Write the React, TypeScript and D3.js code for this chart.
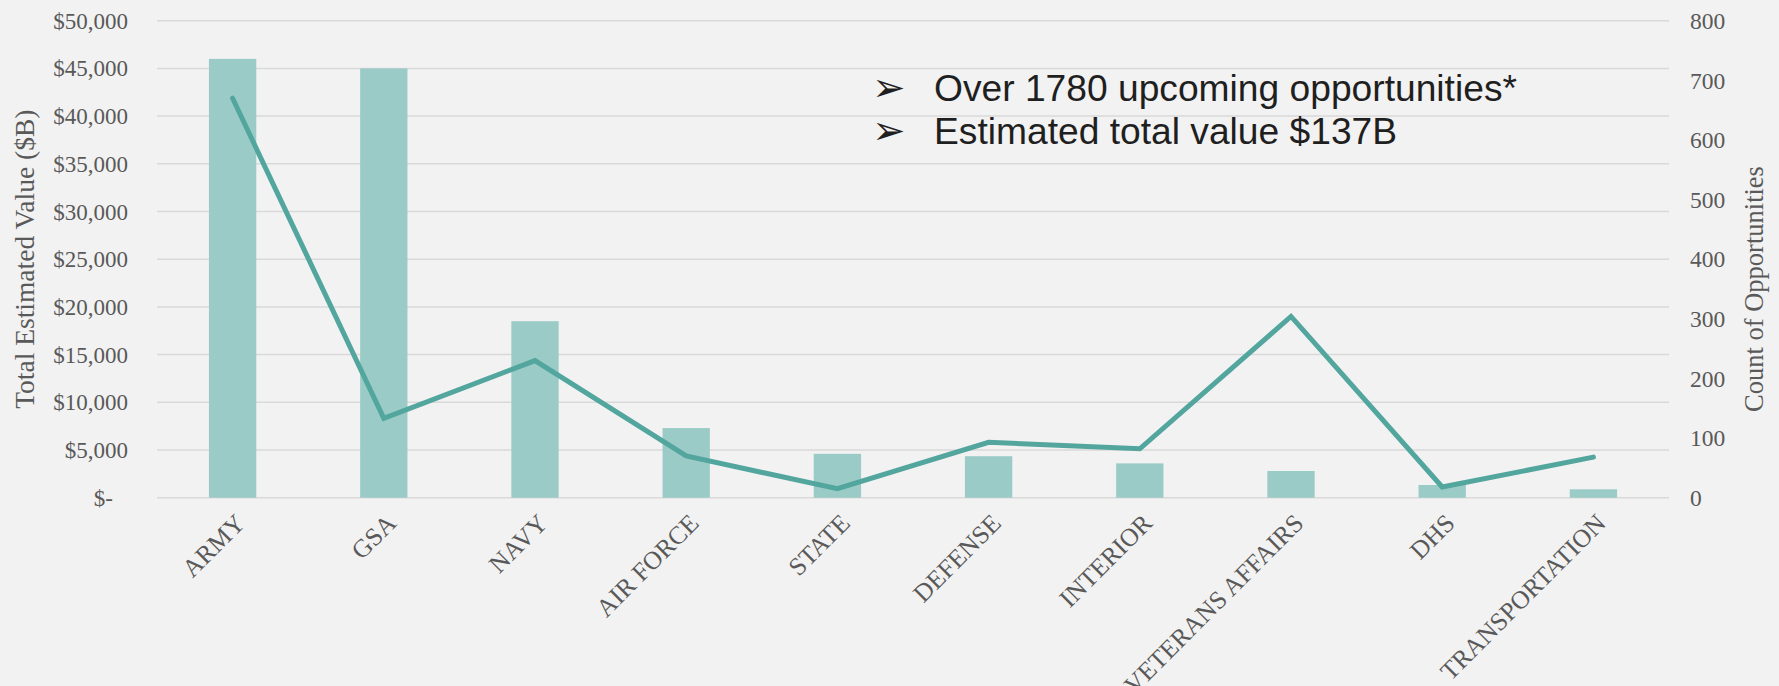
import React from "react";
import * as d3 from "d3";

const categories = ["ARMY", "GSA", "NAVY", "AIR FORCE", "STATE", "DEFENSE", "INTERIOR", "VETERANS AFFAIRS", "DHS", "TRANSPORTATION"];
const totalValues = [46000, 45000, 18500, 7300, 4600, 4350, 3600, 2800, 1330, 880];
const opportunityCounts = [670, 133, 230, 70, 15, 93, 82, 304, 18, 68];
const valueTicks = [0, 5000, 10000, 15000, 20000, 25000, 30000, 35000, 40000, 45000, 50000];
const countTicks = [0, 100, 200, 300, 400, 500, 600, 700, 800];
const notes = ["Over 1780 upcoming opportunities*", "Estimated total value $137B"];

const W = 1779;
const H = 686;
const left = 157;
const right = 1669;
const top = 20.7;
const bottom = 497.7;

const serif = "'Liberation Serif', 'Times New Roman', serif";
const grey = "#595959";

export default function App() {
  const x = d3.scaleBand<string>().domain(categories).range([left, right]).padding(0);
  const yL = d3.scaleLinear().domain([0, 50000]).range([bottom, top]);
  const yR = d3.scaleLinear().domain([0, 800]).range([bottom, top]);
  const barW = x.bandwidth() * 0.313;
  const fmt = d3.format(",");
  const cx = (c: string) => (x(c) as number) + x.bandwidth() / 2;

  const line = d3
    .line<number>()
    .x((_, i) => cx(categories[i]))
    .y((d) => yR(d));

  return (
    <svg
      width={W}
      height={H}
      style={{ position: "absolute", left: 0, top: 0, background: "#F2F2F2" }}
    >
      <rect x={0} y={0} width={W} height={H} fill="#F2F2F2" />
      {valueTicks.map((t) => (
        <line key={"g" + t} x1={left} x2={right} y1={yL(t)} y2={yL(t)} stroke="#D9D9D9" strokeWidth={1.5} />
      ))}
      {valueTicks.map((t) => (
        <text
          key={"l" + t}
          x={t === 0 ? 113 : 128}
          y={yL(t)}
          dy="0.35em"
          textAnchor="end"
          fontFamily={serif}
          fontSize={23}
          fill={grey}
        >
          {t === 0 ? "$-" : "$" + fmt(t)}
        </text>
      ))}
      {countTicks.map((t) => (
        <text
          key={"r" + t}
          x={1690}
          y={yR(t)}
          dy="0.35em"
          textAnchor="start"
          fontFamily={serif}
          fontSize={23.5}
          fill={grey}
        >
          {t}
        </text>
      ))}
      <text
        transform={`translate(34,${(top + bottom) / 2}) rotate(-90)`}
        textAnchor="middle"
        fontFamily={serif}
        fontSize={27.5}
        fill={grey}
      >
        Total Estimated Value ($B)
      </text>
      <text
        transform={`translate(1763,289) rotate(-90)`}
        textAnchor="middle"
        fontFamily={serif}
        fontSize={26.5}
        fill={grey}
      >
        Count of Opportunities
      </text>
      {categories.map((c, i) => (
        <rect
          key={"b" + c}
          x={cx(c) - barW / 2}
          y={yL(totalValues[i])}
          width={barW}
          height={bottom - yL(totalValues[i])}
          fill="#9BCBC7"
        />
      ))}
      <path
        d={line(opportunityCounts) || ""}
        fill="none"
        stroke="#52A69E"
        strokeWidth={5}
        strokeLinecap="round"
        strokeLinejoin="miter"
      />
      {categories.map((c) => (
        <text
          key={"x" + c}
          transform={`translate(${cx(c) + 14},${bottom + 27}) rotate(-45)`}
          textAnchor="end"
          fontFamily={serif}
          fontSize={25.5}
          fill={grey}
        >
          {c}
        </text>
      ))}
      {notes.map((n, i) => (
        <g key={"n" + i}>
          <text x={872} y={101 + i * 43} fontFamily="'DejaVu Sans', sans-serif" fontSize={40} fill="#1F1F1F">
            ➢
          </text>
          <text x={934} y={101 + i * 43} fontFamily="'Liberation Sans', Arial, sans-serif" fontSize={37.2} fill="#1F1F1F">
            {n}
          </text>
        </g>
      ))}
    </svg>
  );
}
